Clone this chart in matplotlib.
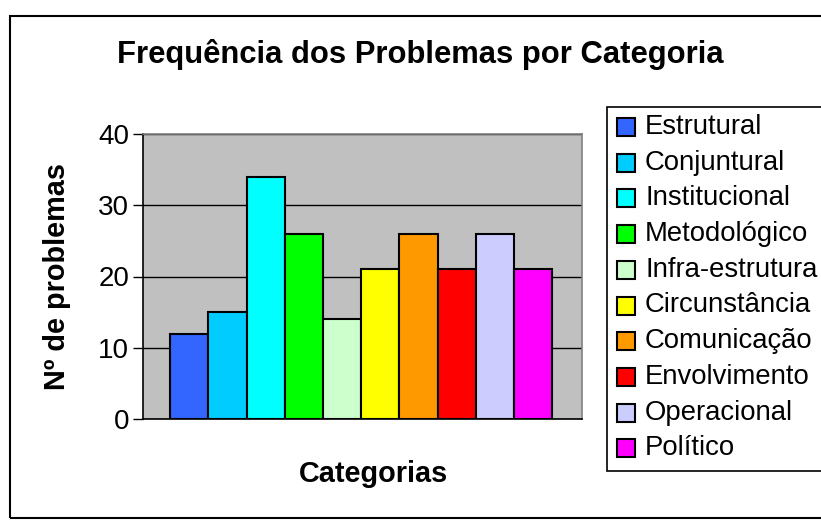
import matplotlib.pyplot as plt
from matplotlib.patches import Rectangle

plt.rcParams['font.family'] = ['Liberation Sans', 'DejaVu Sans']

# data
categorias = ['Estrutural', 'Conjuntural', 'Institucional', 'Metodológico',
              'Infra-estrutura', 'Circunstância', 'Comunicação', 'Envolvimento',
              'Operacional', 'Político']
problemas = [12, 15, 34, 26, 14, 21, 26, 21, 26, 21]
cores = ['#3366FF', '#00CCFF', '#00FFFF', '#00FF00', '#CCFFCC',
         '#FFFF00', '#FF9900', '#FF0000', '#CCCCFF', '#FF00FF']
yticks = [0, 10, 20, 30, 40]

W, H = 821, 521
fig = plt.figure(figsize=(W / 100, H / 100), dpi=100)

# outer chart border
fig.patches.append(Rectangle((10 / W, 1 - 518 / H), 830 / W, (518 - 16) / H,
                             transform=fig.transFigure, fill=False,
                             edgecolor='black', linewidth=1.5))

ax = fig.add_axes([143 / W, 1 - 419 / H, (582 - 143) / W, (419 - 134) / H])
ax.set_facecolor('#C0C0C0')

x = list(range(len(problemas)))
ax.bar(x, problemas, width=1.0, color=cores, edgecolor='black', linewidth=1.5, zorder=3)

ax.set_xlim(-0.5 - 0.71, len(problemas) - 0.5 + 0.78)
ax.set_ylim(0, 40)
ax.set_yticks(yticks)
ax.set_xticks([])
ax.tick_params(axis='y', direction='out', length=7, width=1, labelsize=20, pad=3)
ax.yaxis.grid(True, color='black', linewidth=1, zorder=1)
ax.set_axisbelow(True)

for s in ['top', 'right']:
    ax.spines[s].set_color('#808080')
    ax.spines[s].set_linewidth(1.2)
ax.spines['left'].set_color('black')
ax.spines['bottom'].set_color('black')
ax.spines['left'].set_linewidth(1.2)
ax.spines['bottom'].set_linewidth(1.2)

fig.text(420 / W, 1 - 55 / H, 'Frequência dos Problemas por Categoria',
         ha='center', va='center', fontsize=22.3, fontweight='bold')
fig.text(57 / W, 1 - 277 / H, 'Nº de problemas', rotation=90,
         ha='center', va='center', fontsize=20.8, fontweight='bold')
fig.text(373 / W, 1 - 474 / H, 'Categorias',
         ha='center', va='center', fontsize=20.8, fontweight='bold')

# legend box (runs past the right edge like the original)
fig.patches.append(Rectangle((607 / W, 1 - 471 / H), 300 / W, (471 - 107) / H,
                             transform=fig.transFigure, fill=True,
                             facecolor='white', edgecolor='black', linewidth=1.2))
for i, (nome, cor) in enumerate(zip(categorias, cores)):
    yc = 127 + i * 35.7
    fig.patches.append(Rectangle((617 / W, 1 - (yc + 9) / H), 18 / W, 18 / H,
                                 transform=fig.transFigure, facecolor=cor,
                                 edgecolor='black', linewidth=1.5))
    fig.text(645 / W, 1 - yc / H, nome, ha='left', va='center', fontsize=19.8)

fig.savefig('out.png', dpi=100)
